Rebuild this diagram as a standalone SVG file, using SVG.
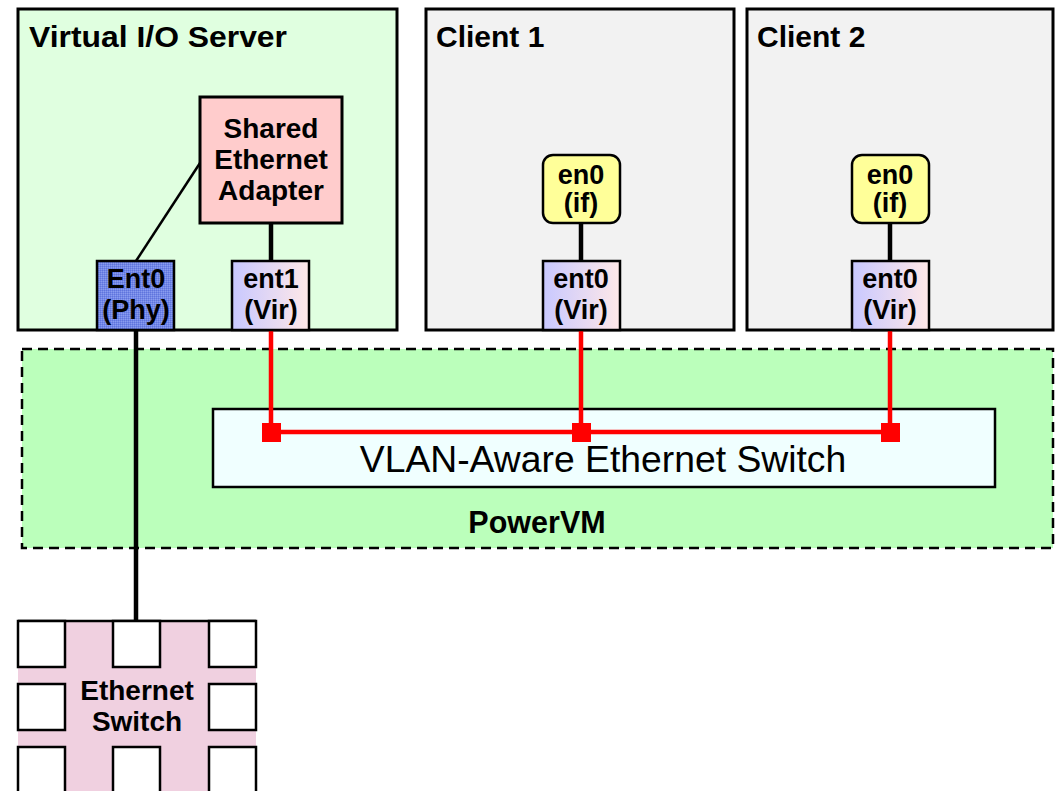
<svg xmlns="http://www.w3.org/2000/svg" width="1057" height="791" viewBox="0 0 1057 791">
<defs>
<linearGradient id="virGrad" x1="0" y1="0" x2="1" y2="0">
<stop offset="0" stop-color="#c8c8ff"/>
<stop offset="1" stop-color="#ffe8e8"/>
</linearGradient>
<pattern id="phyPat" width="2" height="2" patternUnits="userSpaceOnUse">
<rect width="2" height="2" fill="#7388e6"/>
<rect width="1" height="1" fill="#5f74de"/>
<rect x="1" y="1" width="1" height="1" fill="#8a9cf0"/>
</pattern>
<style>
.lbl{font-family:"Liberation Sans",Arial,sans-serif;font-weight:bold;fill:#000}
.mid{text-anchor:middle}
.box{stroke:#000;stroke-width:3}
.sm{stroke:#000;stroke-width:2.5}
.red{stroke:#ff0000;stroke-width:4.5;fill:none}
.blk{stroke:#000;fill:none}
</style>
</defs>
<rect width="1057" height="791" fill="#fff"/>

<g id="powervm">
<rect x="22" y="349" width="1031" height="199" fill="#bbffbb" stroke="#000" stroke-width="2.5" stroke-dasharray="10,6"/>
<text class="lbl mid" x="537" y="533" font-size="30.5">PowerVM</text>
</g>

<g id="vlan-switch">
<rect x="213" y="409" width="782" height="78" fill="#f0ffff" stroke="#000" stroke-width="2.5"/>
<text x="603" y="472" font-size="37.3" text-anchor="middle" font-family="'Liberation Sans',Arial,sans-serif" fill="#000">VLAN-Aware Ethernet Switch</text>
</g>

<g id="vios">
<rect class="box" x="18" y="9" width="379" height="321" fill="#e0ffe0"/>
<text class="lbl" x="29" y="47" font-size="29" textLength="258" lengthAdjust="spacingAndGlyphs">Virtual I/O Server</text>
</g>

<g id="client1">
<rect class="box" x="426" y="9" width="308" height="321" fill="#f2f2f2"/>
<text class="lbl" x="436" y="47" font-size="30">Client 1</text>
</g>

<g id="client2">
<rect class="box" x="747" y="9" width="306" height="321" fill="#f2f2f2"/>
<text class="lbl" x="757" y="47" font-size="30">Client 2</text>
</g>

<g id="connectors">
<line class="blk" x1="200" y1="163" x2="136" y2="261" stroke-width="2.5"/>
<line class="blk" x1="271" y1="223" x2="271" y2="261" stroke-width="4.5"/>
<line class="blk" x1="581" y1="223" x2="581" y2="261" stroke-width="4.5"/>
<line class="blk" x1="890" y1="223" x2="890" y2="261" stroke-width="4.5"/>
<line class="blk" x1="136" y1="330" x2="136" y2="621" stroke-width="4.5"/>
<polyline class="red" points="271,330 271,432 890,432 890,330"/>
<line class="red" x1="581" y1="330" x2="581" y2="432"/>
<rect x="262" y="423" width="19" height="19" fill="#ff0000"/>
<rect x="572" y="423" width="19" height="19" fill="#ff0000"/>
<rect x="881" y="423" width="19" height="19" fill="#ff0000"/>
</g>

<g id="sea">
<rect class="box" x="200" y="97" width="142" height="126" fill="#ffcccc"/>
<text class="lbl mid" x="271" y="138" font-size="28">Shared</text>
<text class="lbl mid" x="271" y="169" font-size="28">Ethernet</text>
<text class="lbl mid" x="271" y="200" font-size="28">Adapter</text>
</g>

<g id="ent0-phy">
<rect class="sm" x="97" y="261" width="77" height="69" fill="url(#phyPat)"/>
<text class="lbl mid" x="136" y="288" font-size="27">Ent0</text>
<text class="lbl mid" x="136" y="319" font-size="27">(Phy)</text>
</g>

<g id="ent1-vir">
<rect class="sm" x="232" y="261" width="77" height="69" fill="url(#virGrad)"/>
<text class="lbl mid" x="271" y="288" font-size="27">ent1</text>
<text class="lbl mid" x="271" y="319" font-size="27">(Vir)</text>
</g>

<g id="c1-en0">
<rect class="sm" x="543" y="155" width="77" height="68" rx="10" fill="#ffff99"/>
<text class="lbl mid" x="581" y="184" font-size="27">en0</text>
<text class="lbl mid" x="581" y="212" font-size="27">(if)</text>
</g>

<g id="c1-ent0">
<rect class="sm" x="543" y="261" width="77" height="69" fill="url(#virGrad)"/>
<text class="lbl mid" x="581" y="288" font-size="27">ent0</text>
<text class="lbl mid" x="581" y="319" font-size="27">(Vir)</text>
</g>

<g id="c2-en0">
<rect class="sm" x="852" y="155" width="77" height="68" rx="10" fill="#ffff99"/>
<text class="lbl mid" x="890" y="184" font-size="27">en0</text>
<text class="lbl mid" x="890" y="212" font-size="27">(if)</text>
</g>

<g id="c2-ent0">
<rect class="sm" x="852" y="261" width="77" height="69" fill="url(#virGrad)"/>
<text class="lbl mid" x="890" y="288" font-size="27">ent0</text>
<text class="lbl mid" x="890" y="319" font-size="27">(Vir)</text>
</g>

<g id="ethernet-switch">
<rect x="18" y="621" width="238" height="175" fill="#f0d0e0"/>
<line x1="18" y1="621" x2="256" y2="621" stroke="#000" stroke-width="2.5"/>
<g fill="#fff" stroke="#000" stroke-width="2.5">
<rect x="18" y="621" width="47" height="46"/>
<rect x="113" y="621" width="47" height="46"/>
<rect x="209" y="621" width="47" height="46"/>
<rect x="18" y="684" width="47" height="46"/>
<rect x="209" y="684" width="47" height="46"/>
<rect x="18" y="747" width="47" height="50"/>
<rect x="113" y="747" width="47" height="50"/>
<rect x="209" y="747" width="47" height="50"/>
</g>
<text class="lbl mid" x="137" y="700" font-size="28">Ethernet</text>
<text class="lbl mid" x="137" y="731" font-size="28">Switch</text>
</g>
</svg>
